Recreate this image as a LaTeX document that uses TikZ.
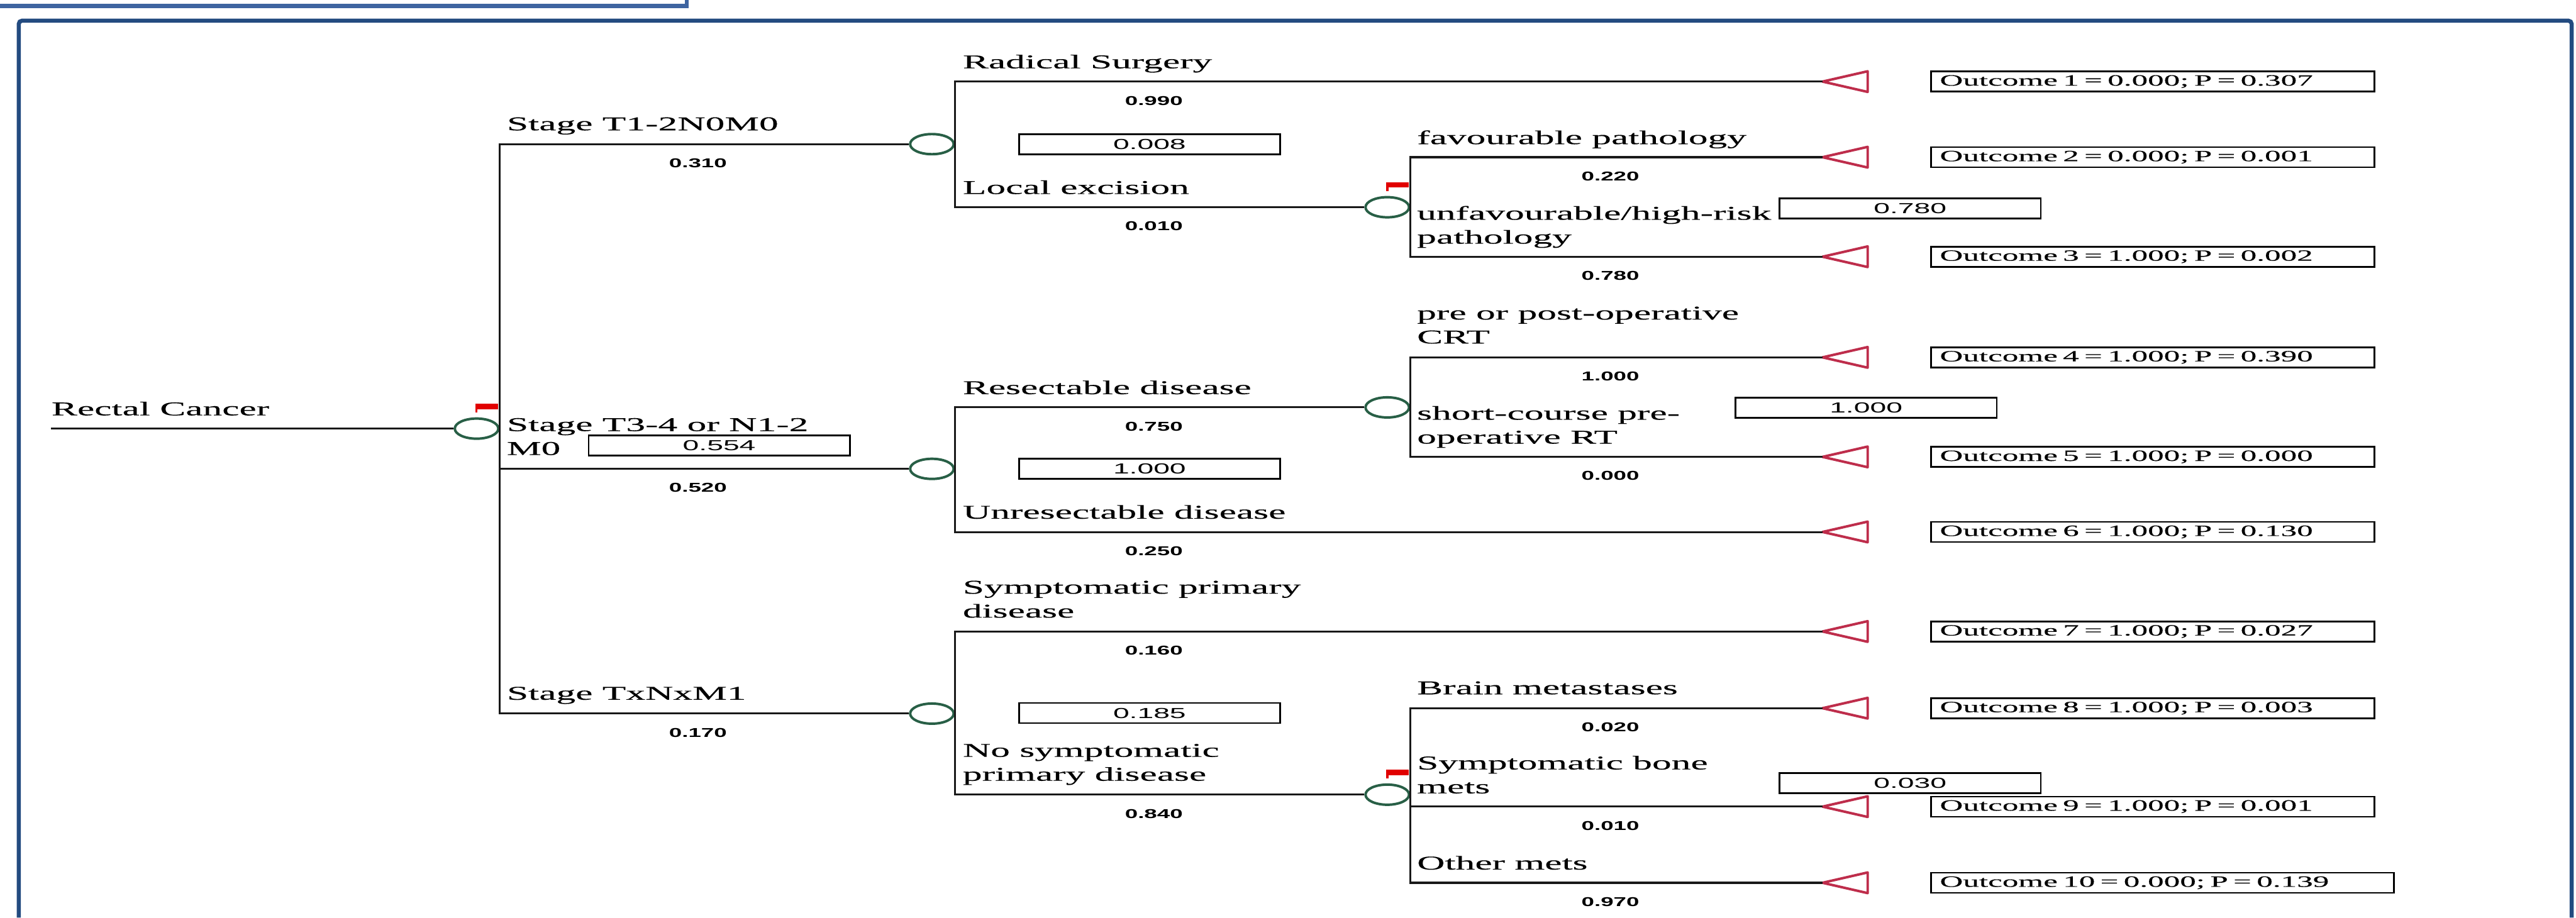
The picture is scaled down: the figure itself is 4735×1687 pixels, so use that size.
\documentclass[tikz,border=0pt]{standalone}
\usepackage{fontspec}
\usepackage{xcolor}
\usepackage{tikz}
\usetikzlibrary{shapes.geometric,calc}

\newfontfamily\lblfont[FakeStretch=1.98,FakeBold=0.3]{Liberation Serif}
\newfontfamily\outfont[FakeStretch=2.05,FakeBold=0.3]{Liberation Serif}
\newfontfamily\valfont[FakeStretch=2.0]{Liberation Sans}
\newfontfamily\probfont[FakeStretch=1.8]{Liberation Sans}

\definecolor{frameblue}{RGB}{35,75,128}
\definecolor{tabblue}{RGB}{62,100,160}
\definecolor{chgreen}{RGB}{40,95,70}
\definecolor{termred}{RGB}{190,45,75}
\definecolor{flagred}{RGB}{225,0,0}

\begin{document}
\begin{tikzpicture}[
    x=0.01cm, y=-0.01cm,
    branch/.style={line width=1pt,black!90},
    chance/.style={ellipse,draw=chgreen,line width=1.3pt,fill=white,
        minimum width=0.8cm,minimum height=0.37cm,inner sep=0pt},
    lbl/.style={anchor=north west,inner sep=0pt,align=left,
        font=\lblfont\fontsize{10.2}{12.5}\selectfont},
    prob/.style={inner sep=0pt,font=\probfont\bfseries\fontsize{6.7}{8}\selectfont},
    valbox/.style={draw,line width=0.9pt,minimum width=4.8cm,minimum height=0.37cm,
        inner sep=0pt,font=\valfont\fontsize{7.6}{9}\selectfont},
    outbox/.style={draw,line width=0.9pt,anchor=west,minimum height=0.37cm,
        inner ysep=0pt,inner xsep=0.16cm,align=left,
        font=\outfont\fontsize{8.2}{9}\selectfont},
    endtri/.pic={\draw[termred,line width=1.3pt,line join=round]
        (0,0) -- (83,-19) -- (83,19) -- cycle;},
    flag/.pic={\fill[flagred] (0,-46) rectangle (40,-36);
        \draw[flagred,line width=1.1pt] (0,-46) -- (0,-30);},
]
    \useasboundingbox (0,0) rectangle (4735,1687);

    % frame
    \draw[tabblue,line width=0.07cm] (0,11) -- (1262,11) -- (1262,0);
    \draw[frameblue,line width=0.075cm,rounded corners=0.06cm]
        (34.5,1687) -- (34.5,38) -- (4727,38) -- (4727,1687);

    % chance nodes
    \node[chance] (r0) at (876,788) {};
    \node[chance] (s1) at (1713,265) {};
    \node[chance] (s2) at (1713,862) {};
    \node[chance] (s3) at (1713,1312) {};
    \node[chance] (le) at (2550,381) {};
    \node[chance] (rs) at (2550,749) {};
    \node[chance] (ns) at (2550,1461) {};

    % terminal nodes with their payoffs
    \foreach \i/\yy/\w/\txt in {
        1/150/7.82/{0.000; P = 0.307}, 2/289/7.82/{0.000; P = 0.001},
        3/472/7.82/{1.000; P = 0.002}, 4/657/7.82/{1.000; P = 0.390},
        5/840/7.82/{1.000; P = 0.000}, 6/978/7.82/{1.000; P = 0.130},
        7/1161/7.82/{1.000; P = 0.027}, 8/1302/7.82/{1.000; P = 0.003},
        9/1483/7.82/{1.000; P = 0.001}, 10/1623/8.18/{0.000; P = 0.139}} {
        \coordinate (t\i) at (3350,\yy);
        \pic at (t\i) {endtri};
        \node[outbox,text width=\w cm] (o\i) at (3548,\yy) {Outcome \i{} = \txt};
    }

    % branches
    \coordinate (start) at (94,788);
    \draw[branch] (start) -- (r0.west);
    \draw[branch] (s1.west) -| (r0.east) |- (s3.west);
    \draw[branch] (r0.east |- s2.west) -- (s2.west);
    \draw[branch] (t1) -| (s1.east) |- (le.west);
    \draw[branch] (rs.west) -| (s2.east) |- (t6);
    \draw[branch] (t7) -| (s3.east) |- (ns.west);
    \draw[branch] (t2) -| (le.east) |- (t3);
    \draw[branch] (t4) -| (rs.east) |- (t5);
    \draw[branch] (t8) -| (ns.east) |- (t10);
    \draw[branch] (ns.east |- t9) -- (t9);

    \pic at (r0) {flag};
    \pic at (le) {flag};
    \pic at (ns) {flag};

    % branch labels
    \node[lbl] (lroot) at (94,738) {Rectal Cancer};
    \node[lbl] (lT12) at (931,215) {Stage T1-2N0M0};
    \node[lbl] (lT34) at (931,768) {Stage T3-4 or N1-2\\M0};
    \node[lbl] (lTx) at (931,1262) {Stage TxNxM1};
    \node[lbl] (lrad) at (1769,100) {Radical Surgery};
    \node[lbl] (lloc) at (1769,331) {Local excision};
    \node[lbl] (lres) at (1769,699) {Resectable disease};
    \node[lbl] (lunres) at (1769,928) {Unresectable disease};
    \node[lbl] (lsymp) at (1769,1067) {Symptomatic primary\\disease};
    \node[lbl] (lnosymp) at (1769,1367) {No symptomatic\\primary disease};
    \node[lbl] (lfav) at (2604,239) {favourable pathology};
    \node[lbl] (lunfav) at (2604,378) {unfavourable/high-risk\\pathology};
    \node[lbl] (lcrt) at (2604,563) {pre or post-operative\\CRT};
    \node[lbl] (lrt) at (2604,746) {short-course pre-\\operative RT};
    \node[lbl] (lbrain) at (2604,1252) {Brain metastases};
    \node[lbl] (lbone) at (2604,1389) {Symptomatic bone\\mets};
    \node[lbl] (lother) at (2604,1573) {Other mets};

    % probabilities
    \node[prob] (p1) at (1283,300) {0.310};
    \node[prob] (p2) at (1283,897) {0.520};
    \node[prob] (p3) at (1283,1347) {0.170};
    \node[prob] (p4) at (2121,185) {0.990};
    \node[prob] (p5) at (2121,416) {0.010};
    \node[prob] (p6) at (2121,784) {0.750};
    \node[prob] (p7) at (2121,1013) {0.250};
    \node[prob] (p8) at (2121,1196) {0.160};
    \node[prob] (p9) at (2121,1496) {0.840};
    \node[prob] (p10) at (2960,324) {0.220};
    \node[prob] (p11) at (2960,507) {0.780};
    \node[prob] (p12) at (2960,692) {1.000};
    \node[prob] (p13) at (2960,875) {0.000};
    \node[prob] (p14) at (2960,1337) {0.020};
    \node[prob] (p15) at (2960,1518) {0.010};
    \node[prob] (p16) at (2960,1658) {0.970};

    % expected values
    \node[valbox] (v1) at (1322,819) {0.554};
    \node[valbox] (v2) at (2113,265) {0.008};
    \node[valbox] (v3) at (2113,862) {1.000};
    \node[valbox] (v4) at (2113,1311) {0.185};
    \node[valbox] (v5) at (3511,383) {0.780};
    \node[valbox] (v6) at (3430,750) {1.000};
    \node[valbox] (v7) at (3511,1440) {0.030};
\end{tikzpicture}
\end{document}
